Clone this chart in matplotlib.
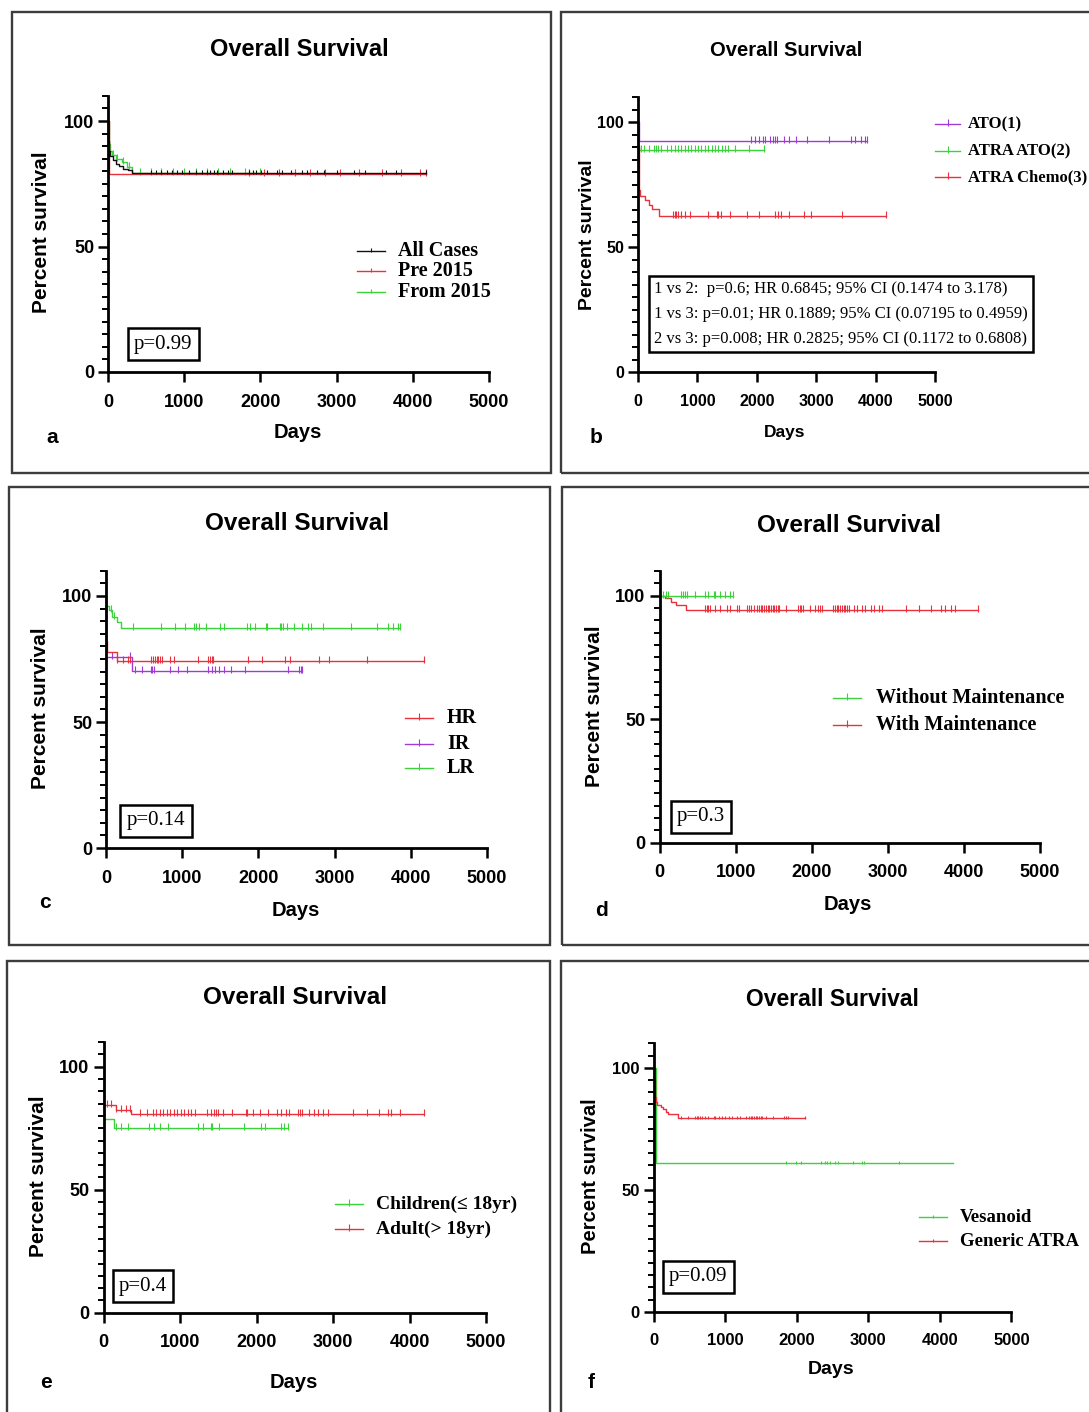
import numpy as np
import matplotlib
matplotlib.use('Agg')
import matplotlib.pyplot as plt
from matplotlib.lines import Line2D
from matplotlib.patches import Rectangle
from matplotlib.ticker import MultipleLocator

plt.rcParams['font.family'] = ['Liberation Sans', 'DejaVu Sans']

W, H = 1089, 1412

RED = '#E8323E'
GREEN = '#3BD23B'
PURPLE = '#A23AD8'
BLACK = '#111111'

# ---------------------------------------------------------------------------
# Kaplan-Meier curves: step times (days), survival (%),
# last follow-up day, censor days
# ---------------------------------------------------------------------------
# a. all cases / era
A_ALL_T = [0, 5, 15, 30, 60, 100, 150, 200, 260, 320]
A_ALL_S = [100, 92, 88, 86, 84.5, 83, 82, 81, 80.5, 79.2]
A_ALL_END = 4170
A_ALL_CENS = [562, 631, 700, 769, 839, 908, 977, 1069, 1161, 1230, 1299, 1345, 1391,
              1437, 1506, 1575, 1621, 1851, 1897, 1943, 2012, 2081, 2219, 2288, 2403,
              2541, 2610, 2749, 2840, 3002, 3232, 3370, 3646, 3784, 4170]
A_PRE_T = [0, 8]
A_PRE_S = [100, 78.8]
A_PRE_END = 4170
A_PRE_CENS = [1850, 2050, 2250, 2450, 2650, 2850, 3050, 3300, 3600, 3850, 4100, 4170]
A_FROM_T = [0, 10, 25, 50, 100, 180, 250, 320]
A_FROM_S = [100, 91, 88, 86.5, 85, 83.5, 81.5, 79.4]
A_FROM_END = 2000
A_FROM_CENS = [60, 120, 200, 280, 420, 560, 700, 850, 1000, 1150, 1300, 1450, 1600,
               1800, 2000]

# b. treatment arms
B_ATO_T = [0, 10]
B_ATO_S = [100, 92.4]
B_ATO_END = 3860
B_ATO_CENS = [1906, 1963, 2031, 2105, 2144, 2229, 2269, 2303, 2343, 2456, 2541, 2654,
              2852, 3220, 3588, 3661, 3758, 3815, 3860]
B_AA_T = [0, 5, 15]
B_AA_S = [100, 91, 88.8]
B_AA_END = 2116
B_AA_CENS = [50, 106, 191, 276, 305, 333, 389, 491, 559, 615, 672, 729, 786, 842, 899,
             956, 1012, 1069, 1126, 1182, 1238, 1295, 1352, 1408, 1465, 1521, 1635,
             1861, 2116]
B_AC_T = [0, 5, 10, 15, 20, 30, 123, 191, 236, 349]
B_AC_S = [100, 90, 83, 77, 73, 70.5, 68.8, 67, 65.3, 62.4]
B_AC_END = 4171
B_AC_CENS = [587, 616, 644, 673, 730, 786, 871, 1181, 1323, 1352, 1397, 1550, 1832,
             2032, 2313, 2359, 2399, 2540, 2795, 2908, 3435, 4171]
B_STATS = ['1 vs 2:  p=0.6; HR 0.6845; 95% CI (0.1474 to 3.178)',
           '1 vs 3: p=0.01; HR 0.1889; 95% CI (0.07195 to 0.4959)',
           '2 vs 3: p=0.008; HR 0.2825; 95% CI (0.1172 to 0.6808)']

# c. risk groups
C_HR_T = [0, 3, 6, 10, 150]
C_HR_S = [100, 90, 82, 77.8, 74.1]
C_HR_END = 4171
C_HR_CENS = [150, 219, 287, 310, 594, 617, 640, 663, 686, 709, 732, 846, 892, 1204,
             1341, 1364, 1386, 1410, 1868, 2051, 2349, 2418, 2793, 2920, 3424, 4171]
C_IR_T = [0, 5, 347]
C_IR_S = [100, 75.8, 70.4]
C_IR_END = 2577
C_IR_CENS = [81, 310, 379, 471, 585, 608, 631, 837, 951, 1066, 1341, 1387, 1432, 1478,
             1547, 1638, 1822, 2394, 2531, 2563, 2577]
C_LR_T = [0, 5, 36, 81, 150, 196]
C_LR_S = [100, 96, 94.3, 91.5, 89.7, 87.2]
C_LR_END = 3859
C_LR_CENS = [72, 104, 356, 722, 906, 1043, 1158, 1180, 1226, 1317, 1501, 1547, 1845,
             1890, 1958, 2096, 2119, 2279, 2302, 2325, 2371, 2462, 2577, 2646, 2692,
             2852, 3218, 3561, 3699, 3767, 3837, 3859]

# d. maintenance
D_WO_T = [0]
D_WO_S = [100]
D_WO_END = 962
D_WO_CENS = [45, 89, 111, 289, 311, 333, 355, 466, 599, 643, 710, 732, 799, 865, 932,
             962]
D_WM_T = [0, 67, 156, 222, 342]
D_WM_S = [100, 98.9, 97.6, 96.3, 94.4]
D_WM_END = 4183
D_WM_CENS = [599, 621, 643, 666, 732, 799, 888, 932, 1021, 1043, 1154, 1176, 1198, 1242,
             1287, 1309, 1331, 1353, 1375, 1398, 1420, 1442, 1464, 1486, 1508, 1531,
             1553, 1575, 1664, 1819, 1841, 1863, 1886, 1974, 2041, 2085, 2107, 2129,
             2285, 2307, 2329, 2351, 2374, 2396, 2418, 2440, 2462, 2484, 2551, 2595,
             2662, 2706, 2773, 2817, 2884, 2928, 3238, 3416, 3571, 3704, 3748, 3837,
             3881, 4183]

# e. age groups
E_CH_T = [0, 5, 138]
E_CH_S = [100, 78.6, 74.9]
E_CH_END = 2408
E_CH_CENS = [161, 229, 321, 596, 665, 734, 849, 1238, 1307, 1399, 1422, 1514, 1835,
             2064, 2110, 2316, 2362, 2408]
E_AD_T = [0, 4, 10, 161, 353]
E_AD_S = [100, 90, 84.4, 82.6, 80.6]
E_AD_END = 4188
E_AD_CENS = [46, 92, 161, 229, 298, 344, 482, 573, 642, 688, 734, 780, 826, 872, 917,
             963, 1009, 1055, 1101, 1147, 1193, 1353, 1399, 1445, 1468, 1491, 1560,
             1674, 1858, 1881, 1950, 2041, 2156, 2271, 2317, 2385, 2431, 2546, 2569,
             2592, 2683, 2752, 2798, 2867, 2936, 3257, 3440, 3601, 3716, 3761, 3876,
             4188]

# f. ATRA brand
F_VE_T = [0, 25]
F_VE_S = [100, 61.1]
F_VE_END = 4184
F_VE_CENS = [1849, 1991, 2061, 2344, 2391, 2415, 2462, 2533, 2580, 2792, 2910, 2934,
             3429]
F_GA_T = [0, 8, 14, 22, 35, 47, 94, 127, 175, 200, 340]
F_GA_S = [100, 95, 91, 88, 86, 84.8, 84, 83, 82, 81, 79.2]
F_GA_END = 2118
F_GA_CENS = [387, 481, 575, 599, 623, 646, 670, 717, 764, 835, 858, 906, 953, 1000,
             1047, 1094, 1165, 1212, 1283, 1330, 1354, 1377, 1401, 1424, 1448, 1472,
             1495, 1519, 1566, 1660, 1825, 1849, 1873, 2118]

TICK = [(0, -0.35), (0, 1)]   # censor mark, mostly above the line
SERIF = ['Liberation Serif', 'DejaVu Serif']

fig = plt.figure(figsize=(W / 100, H / 100), dpi=100)


def fx(px):
    return px / W


def fy(py):
    return 1 - py / H


def level_at(t, s, x):
    idx = np.searchsorted(t, x, side='right') - 1
    return np.asarray(s, dtype=float)[idx]


def km(ax, t, s, end, cens, color, ms=7, lw=1.0, z=2):
    ax.step(list(t) + [end], list(s) + [s[-1]], where='post', color=color, lw=lw,
            zorder=z, clip_on=False)
    ax.plot(cens, level_at(t, s, cens), ls='none', marker=TICK, ms=ms, mew=0.8,
            color=color, zorder=z, clip_on=False)


def panel(left, right, y0, y100, tick_fs):
    y110 = y100 - (y0 - y100) * 0.1
    ax = fig.add_axes([fx(left), fy(y0), (right - left) / W, (y0 - y110) / H])
    ax.set_xlim(0, 5000)
    ax.set_ylim(0, 110)
    ax.spines[['top', 'right']].set_visible(False)
    for s in ('left', 'bottom'):
        ax.spines[s].set_linewidth(2)
    ax.set_xticks(range(0, 5001, 1000))
    ax.set_yticks([0, 50, 100])
    ax.yaxis.set_minor_locator(MultipleLocator(5))
    ax.tick_params(which='major', length=7, width=1.8, labelsize=tick_fs)
    ax.tick_params(axis='x', which='major', pad=8.5)
    ax.tick_params(axis='y', which='major', pad=3)
    ax.tick_params(which='minor', length=4, width=1.4)
    ax.tick_params(axis='x', which='minor', bottom=False)
    for lab in ax.get_xticklabels() + ax.get_yticklabels():
        lab.set_fontweight('bold')
    ax.patch.set_alpha(0)
    return ax


def frame(x0, y0, x1, y1):
    fig.add_artist(Rectangle((fx(x0), fy(y1)), (x1 - x0) / W, (y1 - y0) / H,
                             transform=fig.transFigure, fill=False,
                             ec='#3c3c3c', lw=1.7))


def labels(title_xy, title_fs, days_xy, days_fs, ylab_xy, ylab_fs, letter, letter_xy):
    fig.text(fx(title_xy[0]), fy(title_xy[1]), 'Overall Survival', ha='center',
             va='center', fontsize=title_fs, fontweight='bold')
    fig.text(fx(days_xy[0]), fy(days_xy[1]), 'Days', ha='center', va='center',
             fontsize=days_fs, fontweight='bold')
    fig.text(fx(ylab_xy[0]), fy(ylab_xy[1]), 'Percent survival', ha='center',
             va='center', rotation=90, fontsize=ylab_fs, fontweight='bold')
    fig.text(fx(letter_xy[0]), fy(letter_xy[1]), letter, ha='center', va='center',
             fontsize=15, fontweight='bold')


def legend_rows(x_line, x_text, rows, fs, ms=7, seg=28):
    for label, color, y in rows:
        fig.add_artist(Line2D([fx(x_line), fx(x_line + seg)], [fy(y), fy(y)],
                              color=color, lw=1.0))
        fig.add_artist(Line2D([fx(x_line + seg / 2)], [fy(y)], marker=TICK, ms=ms,
                              mew=0.8, color=color))
        fig.text(fx(x_text), fy(y), label, ha='left', va='center', fontsize=fs,
                 fontweight='bold', family=SERIF)


def pbox(x, y, text, fs=15):
    fig.text(fx(x), fy(y), text, ha='center', va='center', fontsize=fs, family=SERIF,
             bbox=dict(boxstyle='square,pad=0.3', fc='white', ec='black', lw=1.8))


# panel frames
frame(12, 12, 551, 473)
frame(561, 12, 1100, 473)
frame(9, 487, 550, 945)
frame(562, 487, 1100, 945)
frame(7, 961, 550, 1420)
frame(561, 961, 1100, 1420)

# ---- a
ax = panel(108, 489, 372, 121, 13)
km(ax, A_FROM_T, A_FROM_S, A_FROM_END, A_FROM_CENS, GREEN)
km(ax, A_PRE_T, A_PRE_S, A_PRE_END, A_PRE_CENS, RED)
km(ax, A_ALL_T, A_ALL_S, A_ALL_END, A_ALL_CENS, BLACK, ms=5)
labels((299, 49), 17, (298, 433), 14.5, (42, 232), 15, 'a', (52, 437))
legend_rows(357, 398, [('All Cases', BLACK, 251), ('Pre 2015', RED, 271),
                       ('From 2015', GREEN, 292)], 14.5, ms=5)
pbox(163, 344, 'p=0.99')

# ---- b
ax = panel(638, 935, 372, 122, 11.5)
km(ax, B_AA_T, B_AA_S, B_AA_END, B_AA_CENS, GREEN)
km(ax, B_ATO_T, B_ATO_S, B_ATO_END, B_ATO_CENS, PURPLE)
km(ax, B_AC_T, B_AC_S, B_AC_END, B_AC_CENS, RED)
labels((786, 50), 14.5, (785, 433), 12.5, (587, 235), 14, 'b', (596, 437))
legend_rows(935, 968, [('ATO(1)', PURPLE, 124), ('ATRA ATO(2)', GREEN, 151),
                       ('ATRA Chemo(3)', RED, 177)], 12, seg=25)
fig.text(fx(654), fy(314), '\n'.join(B_STATS), ha='left', va='center', fontsize=12,
         family=SERIF, linespacing=1.75,
         bbox=dict(boxstyle='square,pad=0.3', fc='white', ec='black', lw=1.8))

# ---- c
ax = panel(106, 487, 848, 596, 13)
km(ax, C_LR_T, C_LR_S, C_LR_END, C_LR_CENS, GREEN)
km(ax, C_IR_T, C_IR_S, C_IR_END, C_IR_CENS, PURPLE)
km(ax, C_HR_T, C_HR_S, C_HR_END, C_HR_CENS, RED)
labels((297, 523), 17.5, (296, 911), 14.5, (41, 708), 15, 'c', (45, 903))
legend_rows(405, 447, [('HR', RED, 718), ('IR', PURPLE, 744), ('LR', GREEN, 768)],
            14.5)
pbox(156, 821, 'p=0.14')

# ---- d
ax = panel(659.5, 1040, 842.7, 595.7, 13)
km(ax, D_WM_T, D_WM_S, D_WM_END, D_WM_CENS, RED)
km(ax, D_WO_T, D_WO_S, D_WO_END, D_WO_CENS, GREEN)
labels((849, 525), 17.5, (848, 905), 14.5, (594, 706), 15, 'd', (601, 910))
legend_rows(833, 876, [('Without Maintenance', GREEN, 698),
                       ('With Maintenance', RED, 725)], 14.5)
pbox(701, 817, 'p=0.3')

# ---- e
ax = panel(103.5, 486, 1312.7, 1066.7, 13)
km(ax, E_CH_T, E_CH_S, E_CH_END, E_CH_CENS, GREEN)
km(ax, E_AD_T, E_AD_S, E_AD_END, E_AD_CENS, RED)
labels((295, 998), 17.5, (294, 1382), 14.5, (38, 1176), 15, 'e', (46, 1383))
legend_rows(335, 376, [('Children(\u2264 18yr)', GREEN, 1204),
                       ('Adult(> 18yr)', RED, 1229)], 14)
pbox(143, 1286, 'p=0.4')

# ---- f
ax = panel(653.8, 1011.4, 1311.7, 1067.7, 12)
km(ax, F_VE_T, F_VE_S, F_VE_END, F_VE_CENS, GREEN, ms=3)
km(ax, F_GA_T, F_GA_S, F_GA_END, F_GA_CENS, RED, ms=3)
labels((832, 1000), 16.5, (831, 1370), 14, (591, 1176), 14.5, 'f', (591, 1383))
legend_rows(919, 960, [('Vesanoid', GREEN, 1217), ('Generic ATRA', RED, 1241)], 13.5,
            ms=3)
pbox(698, 1277, 'p=0.09')

fig.savefig('out.png', dpi=100)
